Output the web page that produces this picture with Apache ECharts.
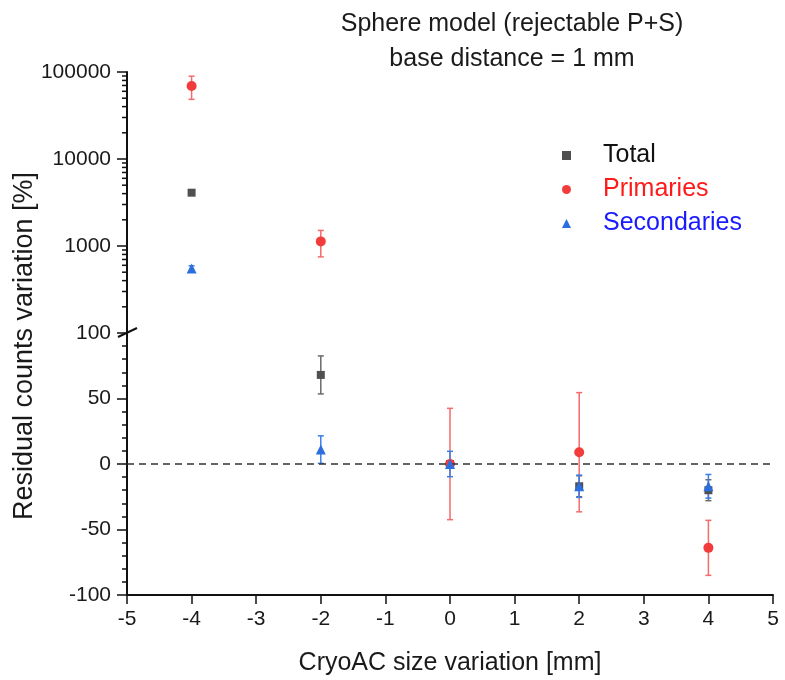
<!DOCTYPE html>
<html>
<head>
<meta charset="utf-8">
<script src="https://cdn.jsdelivr.net/npm/echarts@6/dist/echarts.min.js"></script>
<style>html,body{margin:0;padding:0;background:#fff;}#chart{width:785px;height:680px;}</style>
</head>
<body>
<div id="chart"></div>
<script>
// ---- data ----
const xValues = [-4, -2, 0, 2, 4];
const totalValues = [4100, 68, 0, -17, -20];
const totalErrors = [250, 14.5, 2, 8, 8];
const primariesValues = [69000, 1130, 0, 9, -64];
const primariesErrors = [20500, 380, 42.5, 45.5, 21];
const secondariesValues = [553, 11, 0, -17, -17];
const secondariesErrors = [40, 10.5, 9.7, 8.5, 9];
const xTickValues = [-5, -4, -3, -2, -1, 0, 1, 2, 3, 4, 5];
const logTickLabels = [100, 1000, 10000, 100000];
const linearTickLabels = [-100, -50, 0, 50, 100];
const logMinorTicks = [200,300,400,500,600,700,800,900,2000,3000,4000,5000,6000,7000,8000,9000,20000,30000,40000,50000,60000,70000,80000,90000];
const breakValue = 100;

const FONT = 'Liberation Sans, Arial, sans-serif';
const seriesDefs = [
  {name: 'Total', values: totalValues, errors: totalErrors, symbol: 'rect', size: 8, color: '#505050', barColor: '#6a6a6a', text: '#111111'},
  {name: 'Primaries', values: primariesValues, errors: primariesErrors, symbol: 'circle', size: 10, color: '#f23c3c', barColor: '#f56a6a', text: '#ff1a1a'},
  {name: 'Secondaries', values: secondariesValues, errors: secondariesErrors, symbol: 'triangle', size: 10, color: '#2a6ee0', barColor: '#3a7ee8', text: '#1a1aff'}
];

function errorBarRender(params, api) {
  const x = api.value(0), lo = api.value(1), hi = api.value(2);
  const top = api.coord([x, hi]);
  const bot = api.coord([x, lo]);
  const style = {stroke: api.visual('color'), lineWidth: 1.5};
  const cap = 3;
  return {type: 'group', children: [
    {type: 'line', shape: {x1: top[0], y1: top[1], x2: bot[0], y2: bot[1]}, style: style},
    {type: 'line', shape: {x1: top[0]-cap, y1: top[1], x2: top[0]+cap, y2: top[1]}, style: style},
    {type: 'line', shape: {x1: bot[0]-cap, y1: bot[1], x2: bot[0]+cap, y2: bot[1]}, style: style}
  ]};
}

const series = [];
seriesDefs.forEach(d => {
  [0, 1].forEach(g => {
    const data = [];
    xValues.forEach((x, i) => {
      const v = d.values[i];
      const upper = v >= breakValue;
      if ((g === 0) === upper) data.push([x, v - d.errors[i], v + d.errors[i]]);
    });
    series.push({type: 'custom', name: d.name + ' err', xAxisIndex: g, yAxisIndex: g,
      renderItem: errorBarRender, itemStyle: {color: d.barColor}, data: data, silent: true, z: 2});
  });
});
seriesDefs.forEach((d, k) => {
  [0, 1].forEach(g => {
    const data = [];
    xValues.forEach((x, i) => {
      const v = d.values[i];
      const upper = v >= breakValue;
      if ((g === 0) === upper) data.push([x, v]);
    });
    series.push({type: 'scatter', name: d.name, xAxisIndex: g, yAxisIndex: g, symbol: d.symbol,
      symbolSize: d.size, itemStyle: {color: d.color, opacity: 1}, data: data, z: 3 + k});
  });
});
series.push({type: 'line', xAxisIndex: 1, yAxisIndex: 1, data: [], silent: true,
  markLine: {silent: true, symbol: 'none', label: {show: false},
    lineStyle: {color: '#333', type: [7, 5], width: 1.5}, data: [{yAxis: 0}]}});
series.push({type: 'custom', xAxisIndex: 0, yAxisIndex: 0, silent: true, clip: false,
  data: logMinorTicks.map(v => [-5, v]),
  renderItem: function(params, api) {
    const p = api.coord([api.value(0), api.value(1)]);
    return {type: 'line', shape: {x1: p[0]-5, y1: p[1], x2: p[0], y2: p[1]}, style: {stroke: '#111', lineWidth: 1.5}};
  }});

const axisLine = {show: true, onZero: false, lineStyle: {color: '#111', width: 2}};

const option = {
  animation: false,
  backgroundColor: '#ffffff',
  textStyle: {fontFamily: FONT},
  title: {
    text: 'Sphere model (rejectable P+S)\nbase distance = 1 mm',
    left: 507, top: 2, textAlign: 'center',
    textStyle: {fontFamily: FONT, fontSize: 25, fontWeight: 'normal', color: '#1a1a1a', lineHeight: 35}
  },
  legend: {
    orient: 'vertical', left: 557, top: 138, itemGap: 9, itemWidth: 9, itemHeight: 9,
    textStyle: {fontFamily: FONT, fontSize: 25, padding: [0, 0, 0, 27]},
    data: seriesDefs.map(d => ({name: d.name, icon: d.symbol, textStyle: {color: d.text, fontSize: 25, fontFamily: FONT, padding: [0, 0, 0, 27]}, itemStyle: {color: d.color}})),
    selectedMode: false
  },
  grid: [
    {left: 127, right: 12, top: 72, height: 261},
    {left: 127, right: 12, top: 333, height: 262}
  ],
  xAxis: [
    {type: 'value', gridIndex: 0, min: -5, max: 5, interval: 1, show: false},
    {type: 'value', gridIndex: 1, min: -5, max: 5, interval: 1,
      name: 'CryoAC size variation [mm]', nameLocation: 'middle', nameGap: 56,
      nameTextStyle: {fontFamily: FONT, fontSize: 25, color: '#1a1a1a'},
      axisLine: axisLine, axisTick: {show: true, length: 9, lineStyle: {color: '#111', width: 1.5}},
      axisLabel: {fontFamily: FONT, fontSize: 21, color: '#1a1a1a', margin: 14},
      splitLine: {show: false}}
  ],
  yAxis: [
    {type: 'log', gridIndex: 0, min: 100, max: 100000, logBase: 10, splitNumber: 3,
      axisLine: axisLine, axisTick: {show: true, length: 10, lineStyle: {color: '#111', width: 1.5}},
      axisLabel: {fontFamily: FONT, fontSize: 21, color: '#1a1a1a', margin: 16, showMinLabel: false,
        formatter: v => String(Math.round(v))},
      splitLine: {show: false}},
    {type: 'value', gridIndex: 1, min: -100, max: 100, interval: 50,
      axisLine: axisLine, axisTick: {show: true, length: 10, lineStyle: {color: '#111', width: 1.5}},
      minorTick: {show: true, splitNumber: 5, length: 5, lineStyle: {color: '#111', width: 1.5}},
      axisLabel: {fontFamily: FONT, fontSize: 21, color: '#1a1a1a', margin: 16},
      splitLine: {show: false}, minorSplitLine: {show: false}}
  ],
  graphic: [
    {type: 'text', x: 25, y: 346, rotation: Math.PI / 2, z: 10,
      style: {text: 'Residual counts variation [%]', fontFamily: FONT, fontSize: 27, fill: '#1a1a1a',
        align: 'center', verticalAlign: 'middle'}},
    {type: 'line', shape: {x1: 118, y1: 337, x2: 137, y2: 328}, style: {stroke: '#111', lineWidth: 2}, z: 10}
  ],
  series: series
};

const chart = echarts.init(document.getElementById('chart'), null, {renderer: 'canvas'});
chart.setOption(option);
</script>
</body>
</html>
